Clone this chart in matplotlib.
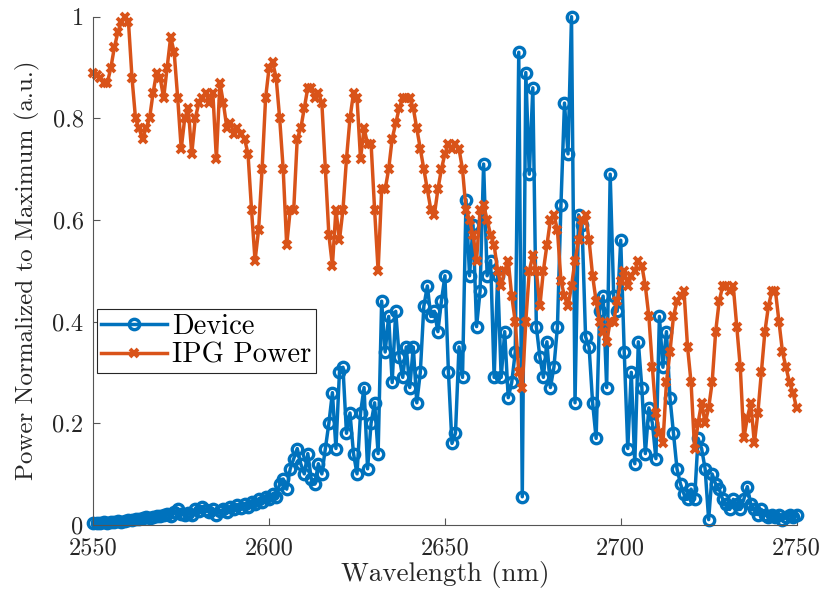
import numpy as np
import matplotlib
matplotlib.use('Agg')
from matplotlib import pyplot as plt
from matplotlib.ticker import FuncFormatter

plt.rcParams['font.family'] = ['cmr10', 'DejaVu Serif']
plt.rcParams['font.size'] = 17

wavelength = np.arange(2550, 2751)

# normalized device output, 1 nm steps from 2550 nm
device = [
    0.003, 0.003, 0.004, 0.005, 0.004, 0.006, 0.005, 0.007, 0.006, 0.008,
    0.009, 0.010, 0.012, 0.011, 0.014, 0.015, 0.013, 0.016, 0.018, 0.017,
    0.020, 0.022, 0.018, 0.025, 0.030, 0.022, 0.020, 0.024, 0.020, 0.030,
    0.026, 0.035, 0.028, 0.025, 0.030, 0.020, 0.027, 0.030, 0.025, 0.035,
    0.030, 0.038, 0.032, 0.040, 0.035, 0.045, 0.040, 0.050, 0.045, 0.055,
    0.050, 0.060, 0.055, 0.080, 0.090, 0.070, 0.110, 0.130, 0.150, 0.120,
    0.100, 0.140, 0.090, 0.080, 0.120, 0.100, 0.150, 0.200, 0.260, 0.150,
    0.300, 0.310, 0.180, 0.220, 0.140, 0.100, 0.220, 0.270, 0.110, 0.200,
    0.240, 0.140, 0.440, 0.340, 0.410, 0.280, 0.420, 0.330, 0.290, 0.350,
    0.270, 0.350, 0.240, 0.300, 0.430, 0.470, 0.410, 0.420, 0.380, 0.440,
    0.490, 0.300, 0.160, 0.180, 0.350, 0.290, 0.640, 0.490, 0.590, 0.390,
    0.460, 0.710, 0.490, 0.520, 0.290, 0.490, 0.290, 0.380, 0.250, 0.280,
    0.340, 0.930, 0.055, 0.890, 0.690, 0.860, 0.390, 0.330, 0.290, 0.360,
    0.270, 0.310, 0.390, 0.630, 0.830, 0.730, 1.000, 0.240, 0.610, 0.590,
    0.370, 0.350, 0.240, 0.170, 0.420, 0.450, 0.270, 0.690, 0.450, 0.420,
    0.560, 0.340, 0.150, 0.300, 0.120, 0.360, 0.270, 0.140, 0.230, 0.200,
    0.130, 0.410, 0.310, 0.380, 0.250, 0.180, 0.110, 0.080, 0.060, 0.050,
    0.070, 0.050, 0.170, 0.150, 0.110, 0.010, 0.100, 0.080, 0.070, 0.050,
    0.040, 0.030, 0.050, 0.040, 0.030, 0.050, 0.075, 0.040, 0.030, 0.020,
    0.030, 0.020, 0.015, 0.020, 0.015, 0.020, 0.010, 0.015, 0.020, 0.015,
    0.020,
]

# normalized IPG laser power, same grid
ipg_power = [
    0.89, 0.885, 0.88, 0.87, 0.87, 0.90, 0.94, 0.97, 0.99, 1.00,
    0.99, 0.88, 0.80, 0.78, 0.76, 0.78, 0.80, 0.85, 0.89, 0.88,
    0.84, 0.90, 0.96, 0.93, 0.84, 0.74, 0.80, 0.82, 0.73, 0.80,
    0.83, 0.84, 0.85, 0.83, 0.85, 0.72, 0.87, 0.83, 0.78, 0.79,
    0.77, 0.78, 0.77, 0.76, 0.73, 0.62, 0.52, 0.58, 0.70, 0.84,
    0.90, 0.91, 0.88, 0.80, 0.70, 0.55, 0.62, 0.62, 0.76, 0.78,
    0.82, 0.86, 0.86, 0.84, 0.85, 0.83, 0.70, 0.57, 0.51, 0.62,
    0.56, 0.62, 0.72, 0.80, 0.85, 0.84, 0.72, 0.78, 0.75, 0.75,
    0.62, 0.50, 0.66, 0.66, 0.70, 0.76, 0.79, 0.82, 0.84, 0.84,
    0.84, 0.82, 0.78, 0.74, 0.70, 0.66, 0.62, 0.61, 0.66, 0.70,
    0.73, 0.75, 0.74, 0.75, 0.74, 0.70, 0.62, 0.60, 0.57, 0.52,
    0.62, 0.63, 0.60, 0.57, 0.55, 0.50, 0.47, 0.50, 0.52, 0.45,
    0.40, 0.30, 0.27, 0.40, 0.50, 0.53, 0.50, 0.43, 0.50, 0.55,
    0.60, 0.61, 0.58, 0.48, 0.45, 0.43, 0.47, 0.52, 0.56, 0.60,
    0.61, 0.56, 0.49, 0.44, 0.40, 0.38, 0.36, 0.40, 0.40, 0.44,
    0.48, 0.50, 0.47, 0.49, 0.50, 0.52, 0.51, 0.47, 0.41, 0.31,
    0.22, 0.18, 0.16, 0.28, 0.34, 0.41, 0.44, 0.45, 0.46, 0.35,
    0.28, 0.15, 0.20, 0.24, 0.20, 0.23, 0.28, 0.38, 0.44, 0.47,
    0.47, 0.46, 0.47, 0.39, 0.31, 0.17, 0.21, 0.24, 0.16, 0.22,
    0.30, 0.38, 0.43, 0.46, 0.46, 0.40, 0.34, 0.31, 0.28, 0.26,
    0.23,
]

assert len(device) == len(wavelength)
assert len(ipg_power) == len(wavelength)

blue = '#0072BD'
orange = '#D95319'
axis_gray = '#262626'

fig = plt.figure(figsize=(8.25, 5.97), dpi=100)
ax = fig.add_axes([0.1131, 0.1211, 0.8524, 0.8509])

ax.plot(wavelength, device, color=blue, lw=2.5, marker='o', ms=7.5,
        mew=2.4, mfc='none', label='Device', clip_on=False)
ax.plot(wavelength, ipg_power, color=orange, lw=2.5, marker='x', ms=6,
        mew=2.8, label='IPG Power', clip_on=False)

ax.set_xlim(2550, 2750)
ax.set_ylim(0, 1)
ax.set_xticks([2550, 2600, 2650, 2700, 2750])
ax.set_yticks([0, 0.2, 0.4, 0.6, 0.8, 1])
ax.yaxis.set_major_formatter(FuncFormatter(lambda v, p: f'{v:g}'))

for side in ('top', 'right'):
    ax.spines[side].set_visible(False)
for side in ('left', 'bottom'):
    ax.spines[side].set_color('#555555')
    ax.spines[side].set_linewidth(0.8)
ax.tick_params(direction='in', length=5, width=0.8, color='#555555',
               labelcolor=axis_gray, labelsize=17.5)
ax.tick_params(axis='x', pad=9)
ax.tick_params(axis='y', pad=7)

ax.set_xlabel('Wavelength (nm)', color=axis_gray, fontsize=19.5,
              labelpad=1)
ax.set_ylabel('Power Normalized to Maximum (a.u.)', color=axis_gray,
              fontsize=18, labelpad=9)

leg = ax.legend(loc='upper left', bbox_to_anchor=(0.005, 0.4246),
                borderaxespad=0, fancybox=False, framealpha=1,
                edgecolor=axis_gray, handlelength=2.3, handletextpad=0.2,
                borderpad=0.15, labelspacing=0.1, fontsize=20.5)
leg.get_frame().set_linewidth(0.8)

fig.savefig('out.png', dpi=100)
